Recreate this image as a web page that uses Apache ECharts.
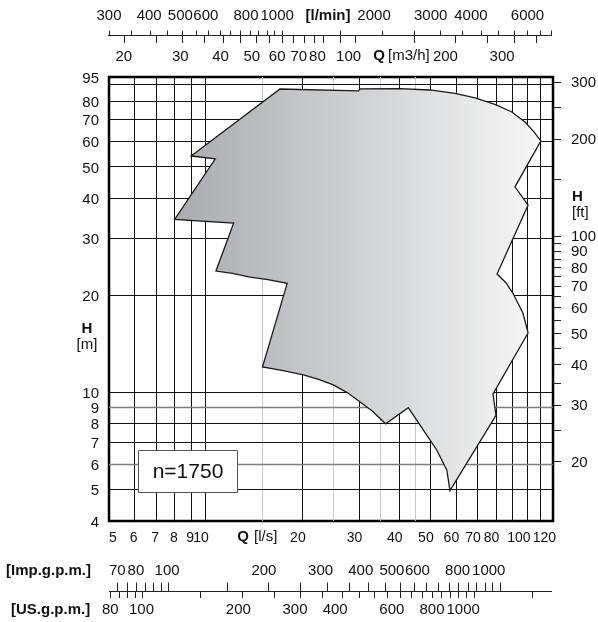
<!DOCTYPE html>
<html>
<head>
<meta charset="utf-8">
<title>n=1750</title>
<script src="https://cdn.jsdelivr.net/npm/echarts@6/dist/echarts.min.js"></script>
<style>
  html, body { margin: 0; padding: 0; background: #fff; }
  #chart { width: 598px; height: 622px; }
</style>
</head>
<body>
<div id="chart"></div>
<script>
// 主坐标: Q [l/s], H [m]
var qLabels = [5, 6, 7, 8, 9, 10, 20, 30, 40, 50, 60, 70, 80, 100, 120];
var hLabels = [4, 5, 6, 7, 8, 9, 10, 20, 30, 40, 50, 60, 70, 80, 95];
var qGridDark = [6, 7, 8, 9, 10, 20, 30, 40, 50, 60, 70, 80, 90, 100, 110];
var qGridLight = [15, 25, 35, 45];
var hGridDark = [5, 7, 8, 10, 20, 30, 40, 50, 60, 70, 80, 90];
var hGridLight = [6, 9];

// 副坐标
var lminLabels = [300, 400, 500, 600, 800, 1000, 2000, 3000, 4000, 6000];
var lminTicks = [300, 350, 400, 450, 500, 550, 600, 650, 700, 750, 800, 850, 900, 950, 1000,
  1500, 2000, 2500, 3000, 3500, 4000, 4500, 5000, 5500, 6000, 6500];
var m3hLabels = [20, 30, 40, 50, 60, 70, 80, 100, 200, 300];
var m3hTicks = [20, 25, 30, 35, 40, 45, 50, 55, 60, 65, 70, 75, 80, 90, 100, 150, 200, 250, 300, 350];
var impLabels = [70, 80, 100, 200, 300, 400, 500, 600, 800, 1000];
var impTicks = [70, 75, 80, 85, 90, 95, 100, 150, 200, 250, 300, 350, 400, 450, 500, 550,
  600, 650, 700, 750, 800, 850, 900, 950, 1000];
var usLabels = [80, 100, 200, 300, 400, 600, 800, 1000];
var usTicks = [80, 85, 90, 95, 100, 150, 200, 250, 300, 350, 400, 450, 500, 550, 600, 650,
  700, 750, 800, 850, 900, 950, 1000, 1500];
var ftLabels = [20, 30, 40, 50, 60, 70, 80, 90, 100, 200, 300];
var ftTicks = [20, 25, 30, 35, 40, 45, 50, 55, 60, 65, 70, 75, 80, 85, 90, 95, 100, 150, 200, 250, 300];

// 性能范围 [Q l/s, H m]
var envelope = [
  [17.0, 87.2], [29.8, 86.0], [30.2, 87.3], [40.0, 87.5], [49.7, 86.6], [59.5, 84.5],
  [68.7, 81.8], [79.2, 78.1], [89.4, 74.0], [98.2, 68.9], [104.7, 64.2], [110, 60.2],
  [91.4, 43.4], [100.4, 38.1], [80.4, 23.3], [85.7, 21.9], [90.1, 20.3], [96.8, 17.6],
  [100.4, 15.3], [78.1, 9.9], [79.8, 8.5], [57.4, 4.97], [56.1, 5.76], [52.2, 6.64],
  [47.4, 7.66], [42.6, 8.98], [36.2, 8.0], [32.9, 8.77], [30.1, 9.37], [27.5, 10.0],
  [24.9, 10.56], [22.3, 11.0], [20.1, 11.34], [17.4, 11.7], [15.0, 12.0], [17.9, 21.8],
  [15.6, 22.4], [13.7, 22.8], [12.1, 23.4], [10.75, 23.8], [12.2, 33.5], [8.0, 34.4],
  [10.7, 53.0], [9.0, 54.1]
];

// 单位换算到 l/s 和 m
var LMIN = 60, M3H = 3.6, IMP = 13.198, USG = 15.85, FT = 0.3048;

var FONT = '15px "Liberation Sans", Arial, sans-serif';
var SMALL = '14px "Liberation Sans", Arial, sans-serif';
var BOLD = 'bold 15px "Liberation Sans", Arial, sans-serif';
var TOP_Y = 35.5, BOT_Y = 591.5;

var myChart = echarts.init(document.getElementById('chart'));

function px(v) { return Math.round(v - 0.5) + 0.5; }

function txt(x, y, s, align, font) {
  return {type: 'text', x: x, y: y,
    style: {text: String(s), fill: '#111', font: font || FONT,
      align: align || 'center', verticalAlign: 'middle'}};
}

function custom(data, render, z, axis) {
  return {
    type: 'custom', coordinateSystem: 'cartesian2d',
    xAxisIndex: axis || 0, yAxisIndex: axis || 0,
    silent: true, clip: false, z: z,
    data: data, renderItem: render
  };
}

function vGrid(color, width) {
  return function (params, api) {
    var a = api.coord([api.value(0), 95]), b = api.coord([api.value(0), 4]);
    var x = px(a[0]);
    return {type: 'line', shape: {x1: x, y1: a[1], x2: x, y2: b[1]},
      style: {stroke: color, lineWidth: width}};
  };
}

function hGrid(color, width) {
  return function (params, api) {
    var a = api.coord([5, api.value(1)]), b = api.coord([120, api.value(1)]);
    var y = px(a[1]);
    return {type: 'line', shape: {x1: a[0], y1: y, x2: b[0], y2: y},
      style: {stroke: color, lineWidth: width}};
  };
}

// 副坐标刻度线 (xAxis 1)
function tick(y1, y2) {
  return function (params, api) {
    var x = px(api.coord([api.value(0), 0.5])[0]);
    return {type: 'line', shape: {x1: x, y1: y1, x2: x, y2: y2},
      style: {stroke: '#222', lineWidth: 1}};
  };
}

// 副坐标文字, 按主坐标定位
function topText(y, labels) {
  return function (params, api) {
    var x = api.coord([api.value(0), 50])[0];
    return txt(x, y, labels[params.dataIndex]);
  };
}

var series = [
  custom(qGridDark.map(function (v) { return [v, 10]; }), vGrid('#111', 1), 1),
  custom(qGridLight.map(function (v) { return [v, 10]; }), vGrid('#c3c7ce', 1), 1),
  custom(hGridDark.map(function (v) { return [10, v]; }), hGrid('#111', 1), 1),
  custom(hGridLight.map(function (v) { return [10, v]; }), hGrid('#7d7d7d', 1.6), 1),

  // 性能范围
  custom(envelope, function (params, api) {
    if (params.dataIndex !== 0) { return null; }
    var pts = envelope.map(function (p) { return api.coord(p); });
    return {type: 'polygon', shape: {points: pts},
      style: {
        fill: new echarts.graphic.LinearGradient(0, 0, 1, 0, [
          {offset: 0, color: '#a8abaf'}, {offset: 1, color: '#f7f7f7'}
        ]),
        stroke: '#1a1a1a', lineWidth: 1.3, lineJoin: 'miter'
      }};
  }, 3),

  // Q [l/s] 标签
  custom(qLabels.map(function (v) { return [v, 4]; }), function (params, api) {
    var p = api.coord([api.value(0), 4]);
    if (params.dataIndex === 0) { return txt(p[0], 538, qLabels[0], 'left', SMALL); }
    return txt(p[0] + 3, 538, qLabels[params.dataIndex], 'right', SMALL);
  }, 4),

  // H [m] 标签
  custom(hLabels.map(function (v) { return [5, v]; }), function (params, api) {
    var p = api.coord([5, api.value(1)]);
    return txt(99, p[1] + 1.5, hLabels[params.dataIndex], 'right');
  }, 4),

  // H [ft]
  custom(ftTicks.map(function (v) { return [120, v * FT]; }), function (params, api) {
    var p = api.coord([120, api.value(1)]);
    var y = px(p[1]);
    return {type: 'line', shape: {x1: p[0], y1: y, x2: p[0] + 8, y2: y},
      style: {stroke: '#222', lineWidth: 1}};
  }, 4),
  custom(ftLabels.map(function (v) { return [120, v * FT]; }), function (params, api) {
    var p = api.coord([120, api.value(1)]);
    return txt(p[0] + 18, p[1] + 1, ftLabels[params.dataIndex], 'left');
  }, 4),

  // 顶部 l/min, m3/h
  custom(lminTicks.map(function (v) { return [v / LMIN, 0.5]; }), tick(TOP_Y - 5, TOP_Y), 4, 1),
  custom(m3hTicks.map(function (v) { return [v / M3H, 0.5]; }), tick(TOP_Y, TOP_Y + 7.5), 4, 1),
  custom(lminLabels.map(function (v) { return [v / LMIN, 50]; }), topText(16, lminLabels), 4),
  custom(m3hLabels.map(function (v) { return [v / M3H, 50]; }), topText(57, m3hLabels), 4),

  // 底部 Imp / US g.p.m.
  custom(impTicks.map(function (v) { return [v / IMP, 0.5]; }), tick(BOT_Y - 9, BOT_Y), 4, 1),
  custom(usTicks.map(function (v) { return [v / USG, 0.5]; }), tick(BOT_Y, BOT_Y + 6.5), 4, 1),
  custom(impLabels.map(function (v) { return [v / IMP, 50]; }), topText(571, impLabels), 4),
  custom(usLabels.map(function (v) { return [v / USG, 50]; }), topText(610, usLabels), 4)
];

var hidden = {axisLine: {show: false}, axisTick: {show: false},
  axisLabel: {show: false}, splitLine: {show: false}};

var option = {
  animation: false,
  backgroundColor: '#fff',
  grid: [
    {left: 109, top: 77, width: 444, height: 444, show: true,
      borderColor: '#000', borderWidth: 2.5, backgroundColor: 'transparent'},
    {left: 109, top: 30, width: 444, height: 10}
  ],
  xAxis: [
    Object.assign({type: 'log', gridIndex: 0, min: 5, max: 120, logBase: 10}, hidden),
    Object.assign({type: 'log', gridIndex: 1, min: 5, max: 109.2, logBase: 10, show: false}, hidden)
  ],
  yAxis: [
    Object.assign({type: 'log', gridIndex: 0, min: 4, max: 95, logBase: 10}, hidden),
    Object.assign({type: 'value', gridIndex: 1, min: 0, max: 1, show: false}, hidden)
  ],
  graphic: [
    {type: 'line', z: 5, shape: {x1: 108, y1: TOP_Y, x2: 552, y2: TOP_Y}, style: {stroke: '#222', lineWidth: 1}},
    {type: 'line', z: 5, shape: {x1: 109, y1: BOT_Y, x2: 552, y2: BOT_Y}, style: {stroke: '#222', lineWidth: 1}},
    {type: 'text', z: 5, x: 328, y: 16, style: {text: '[l/min]', font: BOLD, fill: '#111', align: 'center', verticalAlign: 'middle'}},
    {type: 'text', z: 5, x: 379, y: 56, style: {text: 'Q', font: BOLD, fill: '#111', align: 'center', verticalAlign: 'middle'}},
    {type: 'text', z: 5, x: 388, y: 56, style: {text: '[m3/h]', font: FONT, fill: '#111', align: 'left', verticalAlign: 'middle'}},
    {type: 'text', z: 5, x: 243, y: 537, style: {text: 'Q', font: BOLD, fill: '#111', align: 'center', verticalAlign: 'middle'}},
    {type: 'text', z: 5, x: 254, y: 537, style: {text: '[l/s]', font: FONT, fill: '#111', align: 'left', verticalAlign: 'middle'}},
    {type: 'text', z: 5, x: 87, y: 329, style: {text: 'H', font: BOLD, fill: '#111', align: 'center', verticalAlign: 'middle'}},
    {type: 'text', z: 5, x: 87, y: 345, style: {text: '[m]', font: FONT, fill: '#111', align: 'center', verticalAlign: 'middle'}},
    {type: 'text', z: 5, x: 572, y: 197, style: {text: 'H', font: BOLD, fill: '#111', align: 'left', verticalAlign: 'middle'}},
    {type: 'text', z: 5, x: 572, y: 213, style: {text: '[ft]', font: FONT, fill: '#111', align: 'left', verticalAlign: 'middle'}},
    {type: 'text', z: 5, x: 6, y: 571, style: {text: '[Imp.g.p.m.]', font: BOLD, fill: '#111', align: 'left', verticalAlign: 'middle'}},
    {type: 'text', z: 5, x: 11, y: 610, style: {text: '[US.g.p.m.]', font: BOLD, fill: '#111', align: 'left', verticalAlign: 'middle'}},
    {type: 'rect', z: 10, shape: {x: 138.5, y: 450.5, width: 99, height: 42},
      style: {fill: '#fff', stroke: '#555', lineWidth: 1}},
    {type: 'text', z: 11, x: 188, y: 472, style: {text: 'n=1750', font: '21px "Liberation Sans", Arial, sans-serif',
      fill: '#111', align: 'center', verticalAlign: 'middle'}}
  ],
  series: series
};

myChart.setOption(option);
</script>
</body>
</html>
